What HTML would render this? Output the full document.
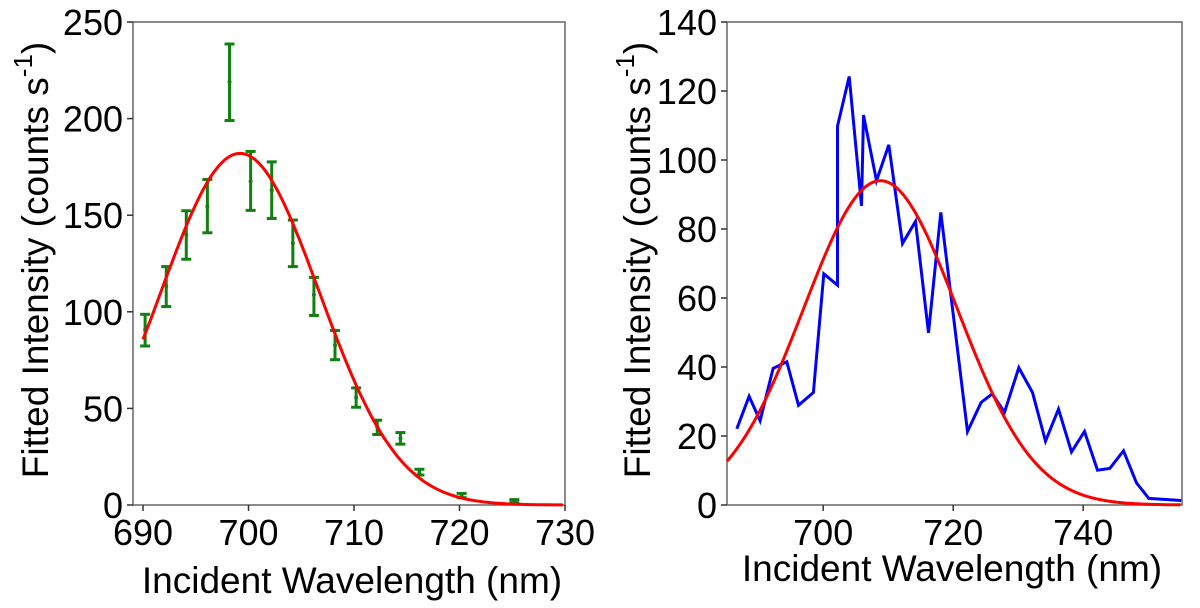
<!DOCTYPE html>
<html><head><meta charset="utf-8"><style>
body{margin:0;background:#fff;width:1200px;height:603px;overflow:hidden}
svg{font-family:"Liberation Sans",sans-serif}
</style></head><body>
<svg id="c" width="1200" height="603"></svg>
<script>
const leftX=[690.2,692.2,694.1,696.1,698.2,700.2,702.2,704.2,706.2,708.2,710.2,712.2,714.4,716.2,720.2,725.2];
const leftY=[90.7,113.2,139.8,154.5,219.1,167.5,162.9,135.4,108.8,82.7,55.6,40.5,34.5,16.9,5,2];
const leftHi=[98.7,123.4,152.3,168.5,238.6,183,177.6,147.5,117.8,90.3,60.6,43.9,37.5,18.5,6,2.8];
const leftLo=[82.3,102.7,127.2,140.9,199,152.5,148.3,123.4,98.1,75.2,50.6,36.5,31.5,15.5,3.8,1.2];
const leftFit=[182,699.2,7.5];
const leftXTicks=[690,700,710,720,730];
const leftYTicks=[0,50,100,150,200,250];
const rightX=[686.7,688.6,690.3,692.3,694.4,696.2,698.5,700.1,702.2,702.2,704,705.9,706.2,708.2,710.1,712.2,714.2,716.2,718.1,722.2,724.3,726,727.9,730.1,732.2,734.2,736.2,738.2,740.2,742.2,744.1,746.2,748.2,750.1,755.1];
const rightY=[22.1,31.5,24.4,39.6,41.5,28.9,32.6,67,63.7,109.8,124.2,86.7,113,94,104.4,75.8,82.2,49.9,84.8,21.3,29.7,32.2,26.9,39.8,32.6,18.5,27.8,15.4,21.3,10.1,10.6,15.7,6.4,1.9,1.3];
const rightFit=[94,708.8,11.8];
const rightXTicks=[700,720,740];
const rightYTicks=[0,20,40,60,80,100,120,140];
const NS="http://www.w3.org/2000/svg";
const svg=document.getElementById('c');
function mk(t,a,p){const e=document.createElementNS(NS,t);for(const k in a)e.setAttribute(k,a[k]);(p||svg).appendChild(e);return e;}
function axes(L,R,T,B,x0,x1,y0,y1,name){
  const sx=v=>L+(v-x0)/(x1-x0)*(R-L), sy=v=>B-(v-y0)/(y1-y0)*(B-T);
  const g=mk('g',{});
  
  
  const box=mk('rect',{x:L,y:T,width:R-L,height:B-T,fill:'none',stroke:'#666','stroke-width':1.5},g);
  
  
  return {sx,sy,g};
}
function gauss(p,x){return p[0]*Math.exp(-Math.pow(x-p[1],2)/(2*p[2]*p[2]));}
function drawTicks(ax,xt,yt,L,B,xlY){
  xt.forEach(v=>{const x=ax.sx(v);mk('line',{x1:x,x2:x,y1:B,y2:B+6,stroke:'#333','stroke-width':1.5},ax.g);
    const t=mk('text',{x:x,y:xlY,'font-size':36,'text-anchor':'middle',fill:'#000'},ax.g);t.textContent=v;
    
    });
  yt.forEach(v=>{const y=ax.sy(v);mk('line',{x1:L-6,x2:L,y1:y,y2:y,stroke:'#333','stroke-width':1.5},ax.g);
    const t=mk('text',{x:L-10,y:y+13,'font-size':36,'text-anchor':'end',fill:'#000'},ax.g);t.textContent=v;
    
    });
}
function titles(ax,cx,xy,yx,cy){
  const t=mk('text',{x:cx,y:xy,'font-size':37,'text-anchor':'middle'},ax.g);t.textContent='Incident Wavelength (nm)';
  
  
  const y=mk('text',{x:0,y:0,'font-size':37,'text-anchor':'middle',transform:`translate(${yx},${cy}) rotate(-90)`},ax.g);
  y.innerHTML='Fitted Intensity (counts s<tspan dy="-16" font-size="26">-1</tspan><tspan dy="16">)</tspan>';
  
  
}
// left
const A=axes(133,565,22,505,689.05,730,0,250,'left-chart');
drawTicks(A,leftXTicks,leftYTicks,133,505,545);
titles(A,352,593,48,260);
leftX.forEach((x,i)=>{const px=A.sx(x);
  const e=mk('g',{stroke:'#118011','stroke-width':3,fill:'#118011'},A.g);
  
  
  mk('line',{x1:px,x2:px,y1:A.sy(leftHi[i]),y2:A.sy(leftLo[i])},e);
  mk('line',{x1:px-5,x2:px+5,y1:A.sy(leftHi[i]),y2:A.sy(leftHi[i])},e);
  mk('line',{x1:px-5,x2:px+5,y1:A.sy(leftLo[i]),y2:A.sy(leftLo[i])},e);
  mk('circle',{cx:px,cy:A.sy(leftY[i]),r:2,stroke:'none'},e);
});
let d='';for(let x=690;x<=730;x+=0.2)d+=(d?'L':'M')+A.sx(x).toFixed(1)+','+A.sy(gauss(leftFit,x)).toFixed(1);
const f1=mk('path',{d,fill:'none',stroke:'#f00','stroke-width':3},A.g);


// right
const B=axes(727,1182,22,505,685.2,755.2,0,140,'right-chart');
drawTicks(B,rightXTicks,rightYTicks,727,505,545);
titles(B,952,581,650,260);
d=rightX.map((x,i)=>(i?'L':'M')+B.sx(x).toFixed(1)+','+B.sy(rightY[i]).toFixed(1)).join('');
const dl=mk('path',{d,fill:'none',stroke:'#00f','stroke-width':3,'stroke-linejoin':'miter'},B.g);


d='';for(let x=685.2;x<=755.2;x+=0.2)d+=(d?'L':'M')+B.sx(x).toFixed(1)+','+B.sy(gauss(rightFit,x)).toFixed(1);
const f2=mk('path',{d,fill:'none',stroke:'#f00','stroke-width':3},B.g);


</script>
</body></html>
